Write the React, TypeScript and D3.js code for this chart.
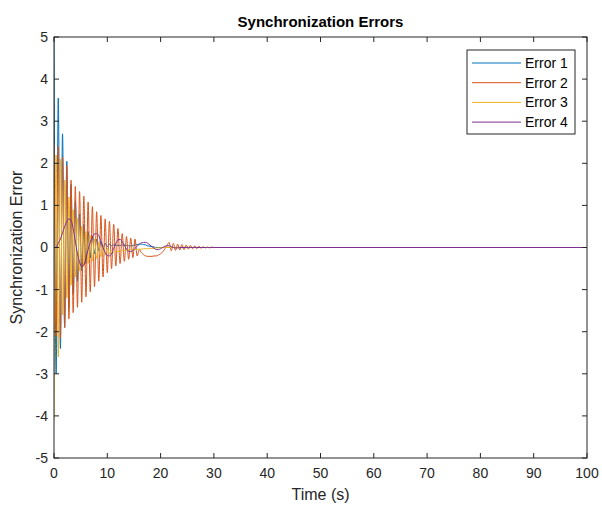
import React from "react";
import * as d3 from "d3";

// sample times (s); the signals are flat at zero after ~30 s
const times = [
  0, 0.4, 0.8, 1.2, 1.6, 2, 2.4, 2.8, 3.2, 3.6,
  4, 4.4, 4.8, 5.2, 5.6, 6, 6.4, 6.8, 7.2, 7.6,
  8, 8.4, 8.8, 9.2, 9.6, 10, 10.4, 10.8, 11.2, 11.6,
  12, 12.4, 12.8, 13.2, 13.6, 14, 14.4, 14.8, 15.2, 15.6,
  16, 16.4, 16.8, 17.2, 17.6, 18, 18.4, 18.8, 19.2, 19.6,
  20, 20.4, 20.8, 21.2, 21.6, 22, 22.4, 22.8, 23.2, 23.6,
  24, 24.4, 24.8, 25.2, 25.6, 26, 26.4, 26.8, 27.2, 27.6,
  28, 28.4, 28.8, 29.2, 29.6, 30, 100,
];

const error1 = [
  5.0, -3.0, 3.55, -2.4, 2.7, -1.9, 2.05, -1.45, 1.5, -1.1,
  1.1, -0.8, 0.8, -0.55, 0.55, -0.38, 0.38, -0.25, 0.27, -0.15,
  0.2, -0.08, 0.14, -0.02, 0.1, 0.02, 0.08, 0.04, 0.06, 0.05,
  0.05, 0.05, 0.06, 0.06, 0.05, 0.04, 0.04, 0.05, 0.06, 0.07,
  0.08, 0.08, 0.07, 0.06, 0.04, 0.03, 0.02, 0.01, 0, 0,
  0, 0, 0, 0, 0, 0, 0, 0, 0, 0,
  0, 0, 0, 0, 0, 0, 0, 0, 0, 0,
  0, 0, 0, 0, 0, 0, 0,
];

const error2 = [
  2.45, -2.1, 2.4, -2.15, 2.15, -1.9, 1.95, -1.7, 1.6, -1.55,
  1.45, -1.42, 1.33, -1.3, 1.22, -1.17, 1.08, -1.05, 0.97, -0.93,
  0.85, -0.8, 0.76, -0.7, 0.68, -0.6, 0.62, -0.5, 0.55, -0.44,
  0.45, -0.38, 0.33, -0.33, 0.26, -0.28, 0.22, -0.24, 0.2, -0.2,
  -0.05, -0.12, -0.17, -0.2, -0.21, -0.21, -0.21, -0.2, -0.2, -0.18,
  -0.15, -0.1, -0.03, 0.05, 0.12, -0.08, 0.1, -0.07, 0.08, -0.06,
  0.07, -0.05, 0.06, -0.04, 0.05, -0.03, 0.04, -0.03, 0.03, -0.02,
  0.02, -0.01, 0.01, -0.01, 0.01, 0, 0,
];

const error3 = [
  -4.1, 2.2, -2.6, 2.1, -1.6, 1.6, -1.2, 1.2, -0.9, 0.9,
  -0.7, 0.7, -0.55, 0.5, -0.45, 0.38, -0.38, 0.28, -0.32, 0.2,
  -0.26, 0.12, -0.22, 0.05, -0.18, -0.02, -0.15, -0.06, -0.12, -0.08,
  -0.1, -0.09, -0.08, -0.07, -0.06, -0.06, -0.05, -0.05, -0.05, -0.04,
  -0.04, -0.04, -0.03, -0.03, -0.03, -0.02, -0.02, -0.02, -0.01, -0.01,
  0, 0, 0, 0, 0, 0, 0, 0, 0, 0,
  0, 0, 0, 0, 0, 0, 0, 0, 0, 0,
  0, 0, 0, 0, 0, 0, 0,
];

const error4 = [
  0, 0, 0.1, 0.2, 0.35, 0.5, 0.62, 0.68, 0.65, 0.45,
  0.15, -0.15, -0.35, -0.45, -0.42, -0.25, -0.05, 0.12, 0.25, 0.32,
  0.33, 0.28, 0.15, 0, -0.12, -0.19, -0.2, -0.15, -0.02, 0.1,
  0.18, 0.19, 0.14, 0.05, -0.04, -0.09, -0.1, -0.07, -0.02, 0.03,
  0.08, 0.11, 0.12, 0.12, 0.1, 0.06, 0.02, -0.02, -0.05, -0.05,
  -0.03, 0, 0.03, 0.04, 0.04, 0.02, 0, -0.01, -0.01, 0,
  0, 0, 0, 0, 0, 0, 0, 0, 0, 0,
  0, 0, 0, 0, 0, 0, 0,
];

const seriesNames = ["Error 1", "Error 2", "Error 3", "Error 4"];
const seriesValues = [error1, error2, error3, error4];
const colors = ["#0072BD", "#D95319", "#EDB120", "#7E2F8E"];

const xTicks = [0, 10, 20, 30, 40, 50, 60, 70, 80, 90, 100];
const yTicks = [-5, -4, -3, -2, -1, 0, 1, 2, 3, 4, 5];

const W = 602;
const H = 510;
const margin = { top: 37, right: 15, bottom: 52, left: 54 };
const font = "'Liberation Sans', Arial, Helvetica, sans-serif";
const axisColor = "#262626";

export default function App() {
  const x = d3.scaleLinear().domain([0, 100]).range([margin.left, W - margin.right]);
  const y = d3.scaleLinear().domain([-5, 5]).range([H - margin.bottom, margin.top]);
  const [x0, x1] = x.range();
  const [y0, y1] = y.range(); // y0 bottom, y1 top

  const line = d3
    .line<number>()
    .x((_, i) => x(times[i]))
    .y((d) => y(d))
    .curve(d3.curveMonotoneX);

  const tick = 5;
  const legend = { x: 467, y: 50, w: 108, h: 84 };

  return (
    <svg
      width={W}
      height={H}
      style={{ position: "absolute", left: 0, top: 0, background: "#fff" }}
      fontFamily={font}
    >
      <defs>
        <clipPath id="plot-clip">
          <rect x={x0} y={y1} width={x1 - x0} height={y0 - y1} />
        </clipPath>
      </defs>

      {/* series */}
      <g clipPath="url(#plot-clip)">
        {seriesValues.map((vals, k) => (
          <path
            key={k}
            d={line(vals) ?? ""}
            fill="none"
            stroke={colors[k]}
            strokeWidth={1}
            strokeLinejoin="round"
          />
        ))}
      </g>

      {/* axes box */}
      <rect
        x={x0}
        y={y1}
        width={x1 - x0}
        height={y0 - y1}
        fill="none"
        stroke={axisColor}
        strokeWidth={1}
      />

      {/* x ticks */}
      {xTicks.map((t) => (
        <g key={"x" + t}>
          <line x1={x(t)} x2={x(t)} y1={y0} y2={y0 - tick} stroke={axisColor} />
          <line x1={x(t)} x2={x(t)} y1={y1} y2={y1 + tick} stroke={axisColor} />
          <text
            x={x(t)}
            y={y0 + 20}
            textAnchor="middle"
            fontSize={14}
            fill={axisColor}
          >
            {t}
          </text>
        </g>
      ))}

      {/* y ticks */}
      {yTicks.map((t) => (
        <g key={"y" + t}>
          <line x1={x0} x2={x0 + tick} y1={y(t)} y2={y(t)} stroke={axisColor} />
          <line x1={x1} x2={x1 - tick} y1={y(t)} y2={y(t)} stroke={axisColor} />
          <text
            x={x0 - 6}
            y={y(t)}
            dy="0.35em"
            textAnchor="end"
            fontSize={14}
            fill={axisColor}
          >
            {t}
          </text>
        </g>
      ))}

      {/* title and labels */}
      <text
        x={(x0 + x1) / 2}
        y={27}
        textAnchor="middle"
        fontSize={15}
        fontWeight="bold"
        fill="#000"
      >
        Synchronization Errors
      </text>
      <text
        x={(x0 + x1) / 2}
        y={H - 10}
        textAnchor="middle"
        fontSize={16}
        fill={axisColor}
      >
        Time (s)
      </text>
      <text
        transform={`translate(22,${(y0 + y1) / 2}) rotate(-90)`}
        textAnchor="middle"
        fontSize={16}
        fill={axisColor}
      >
        Synchronization Error
      </text>

      {/* legend */}
      <g>
        <rect
          x={legend.x}
          y={legend.y}
          width={legend.w}
          height={legend.h}
          fill="#fff"
          stroke={axisColor}
          strokeWidth={1}
        />
        {seriesNames.map((name, k) => {
          const ly = legend.y + 13 + k * 19.7;
          return (
            <g key={name}>
              <line
                x1={legend.x + 5}
                x2={legend.x + 54}
                y1={ly}
                y2={ly}
                stroke={colors[k]}
                strokeWidth={1}
              />
              <text
                x={legend.x + 58}
                y={ly}
                dy="0.35em"
                fontSize={14}
                fill="#000"
              >
                {name}
              </text>
            </g>
          );
        })}
      </g>
    </svg>
  );
}
